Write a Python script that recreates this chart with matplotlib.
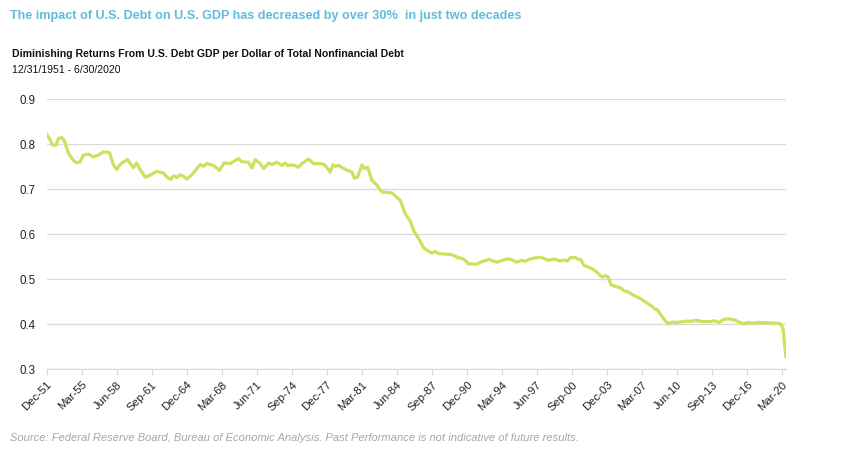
#!/usr/bin/env python3
"""
U.S. GDP per dollar of total nonfinancial debt, 1951-2020
"""
import matplotlib
matplotlib.use('Agg')
import matplotlib.pyplot as plt

plt.rcParams['font.family'] = ['Liberation Sans', 'DejaVu Sans']

# Data (decimal year, ratio)
years = [
    1951.92, 1952.16, 1952.47, 1952.78, 1953.00, 1953.31, 1953.53, 1953.93, 1954.39, 1954.70,
    1955.01, 1955.32, 1955.79, 1956.25, 1956.71, 1957.18, 1957.73, 1958.11, 1958.42, 1958.79,
    1959.41, 1959.96, 1960.27, 1960.58, 1961.05, 1961.51, 1962.13, 1962.75, 1963.06, 1963.43,
    1963.68, 1963.99, 1964.30, 1964.61, 1964.92, 1965.38, 1966.15, 1966.46, 1966.77, 1967.39,
    1967.95, 1968.38, 1968.94, 1969.40, 1969.71, 1970.02, 1970.64, 1970.95, 1971.26, 1971.73,
    1972.04, 1972.50, 1972.81, 1973.27, 1973.74, 1974.05, 1974.26, 1974.82, 1975.28, 1975.59,
    1976.21, 1976.68, 1977.45, 1977.76, 1978.22, 1978.47, 1978.69, 1979.00, 1979.46, 1980.24,
    1980.45, 1980.76, 1981.17, 1981.41, 1981.69, 1982.09, 1982.56, 1983.02, 1983.95, 1984.41,
    1984.73, 1985.19, 1985.66, 1985.97, 1986.43, 1986.89, 1987.36, 1987.67, 1987.98, 1988.29,
    1989.37, 1989.68, 1989.99, 1990.61, 1991.07, 1991.38, 1991.85, 1992.16, 1992.93, 1993.70,
    1994.32, 1994.63, 1994.94, 1995.50, 1996.02, 1996.33, 1996.64, 1997.11, 1997.73, 1998.19,
    1998.50, 1998.96, 1999.58, 1999.95, 2000.20, 2000.51, 2000.98, 2001.28, 2001.50, 2001.75,
    2002.21, 2002.68, 2003.14, 2003.45, 2003.76, 2003.98, 2004.29, 2004.69, 2005.15, 2005.46,
    2005.93, 2006.39, 2007.01, 2007.63, 2008.09, 2008.31, 2008.56, 2008.87, 2009.33, 2009.64,
    2009.95, 2010.17, 2010.72, 2011.34, 2011.81, 2012.12, 2012.74, 2013.51, 2013.88, 2014.28,
    2014.75, 2015.21, 2015.68, 2016.14, 2016.61, 2017.07, 2017.38, 2017.84, 2018.46, 2019.08,
    2019.86, 2020.07, 2020.26, 2020.50,
]
gdp_per_debt = [
    0.821, 0.812, 0.797, 0.797, 0.812, 0.814, 0.808, 0.779, 0.763, 0.758,
    0.760, 0.775, 0.777, 0.771, 0.775, 0.782, 0.781, 0.753, 0.743, 0.756,
    0.765, 0.747, 0.757, 0.743, 0.726, 0.730, 0.739, 0.735, 0.726, 0.721,
    0.729, 0.725, 0.731, 0.728, 0.722, 0.731, 0.754, 0.750, 0.756, 0.752,
    0.741, 0.758, 0.756, 0.763, 0.767, 0.760, 0.759, 0.746, 0.765, 0.756,
    0.745, 0.757, 0.754, 0.759, 0.752, 0.757, 0.752, 0.753, 0.748, 0.756,
    0.766, 0.756, 0.756, 0.752, 0.737, 0.753, 0.750, 0.752, 0.745, 0.737,
    0.724, 0.726, 0.753, 0.745, 0.748, 0.719, 0.708, 0.693, 0.691, 0.681,
    0.674, 0.644, 0.628, 0.607, 0.589, 0.569, 0.561, 0.557, 0.561, 0.556,
    0.554, 0.552, 0.548, 0.544, 0.533, 0.533, 0.533, 0.537, 0.543, 0.537,
    0.542, 0.544, 0.544, 0.537, 0.541, 0.539, 0.543, 0.546, 0.548, 0.544,
    0.541, 0.544, 0.540, 0.542, 0.539, 0.547, 0.547, 0.543, 0.542, 0.530,
    0.526, 0.520, 0.511, 0.504, 0.507, 0.505, 0.487, 0.483, 0.480, 0.474,
    0.470, 0.463, 0.456, 0.446, 0.439, 0.433, 0.432, 0.421, 0.406, 0.400,
    0.404, 0.403, 0.404, 0.406, 0.406, 0.408, 0.405, 0.405, 0.407, 0.403,
    0.410, 0.411, 0.409, 0.404, 0.400, 0.403, 0.401, 0.403, 0.403, 0.402,
    0.401, 0.399, 0.386, 0.327,
]

tick_labels = ['Dec-51', 'Mar-55', 'Jun-58', 'Sep-61', 'Dec-64', 'Mar-68', 'Jun-71',
               'Sep-74', 'Dec-77', 'Mar-81', 'Jun-84', 'Sep-87', 'Dec-90', 'Mar-94',
               'Jun-97', 'Sep-00', 'Dec-03', 'Mar-07', 'Jun-10', 'Sep-13', 'Dec-16', 'Mar-20']
y_ticks = [0.3, 0.4, 0.5, 0.6, 0.7, 0.8, 0.9]

MONTHS = {'Mar': 2, 'Jun': 5, 'Sep': 8, 'Dec': 11}


def label_to_year(lbl):
    mon, yy = lbl.split('-')
    yr = int(yy)
    yr += 1900 if yr > 30 else 2000
    return yr + MONTHS[mon] / 12


tick_pos = [label_to_year(t) for t in tick_labels]

fig = plt.figure(figsize=(8.5, 4.6), dpi=100)
ax = fig.add_axes([0.055, 0.196, 0.8695, 0.587])

ax.plot(years, gdp_per_debt, color='#d0df5c', linewidth=2.3, solid_joinstyle='round')

ax.set_xlim(years[0], years[-1])
ax.set_ylim(y_ticks[0], y_ticks[-1])
ax.set_yticks(y_ticks)
ax.set_yticklabels([f'{v:.1f}' for v in y_ticks])
ax.set_xticks(tick_pos)
ax.set_xticklabels(tick_labels, rotation=45, ha='right', rotation_mode='anchor')

ax.grid(axis='y', color='#d9d9d9', linewidth=0.9)
ax.set_axisbelow(True)
for side in ['left', 'right', 'top']:
    ax.spines[side].set_visible(False)
ax.spines['bottom'].set_color('#d9d9d9')
ax.spines['bottom'].set_linewidth(0.9)
ax.tick_params(axis='y', length=0, pad=8, labelsize=8.3, labelcolor='#222222')
ax.tick_params(axis='x', length=4, color='#d9d9d9', width=0.9, pad=3,
               labelsize=8.2, labelcolor='#222222')

fig.text(0.012, 0.966, 'The impact of U.S. Debt on U.S. GDP has decreased by over 30%  in just two decades',
         fontsize=9.1, fontweight='bold', color='#62bcd8', va='center', ha='left')
fig.text(0.014, 0.882, 'Diminishing Returns From U.S. Debt GDP per Dollar of Total Nonfinancial Debt',
         fontsize=7.6, fontweight='bold', color='#111111', va='center', ha='left')
fig.text(0.014, 0.847, '12/31/1951 - 6/30/2020',
         fontsize=7.6, color='#111111', va='center', ha='left')
fig.text(0.012, 0.048, 'Source: Federal Reserve Board, Bureau of Economic Analysis. Past Performance is not indicative of future results.',
         fontsize=8, style='italic', color='#a6a6a6', va='center', ha='left')

fig.savefig('out.png', dpi=100)
plt.close(fig)
